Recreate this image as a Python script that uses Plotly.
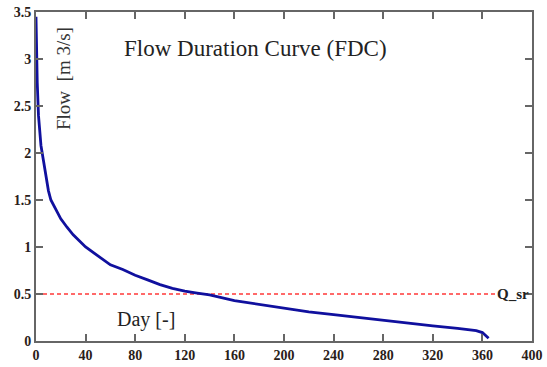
import plotly.graph_objects as go

days = [0, 0.3, 1, 2, 3, 4, 6, 8, 10, 12, 15, 20, 25, 30, 40, 50, 60, 70, 80, 90, 100, 110, 120, 130, 140, 160, 180, 200, 220, 240, 260, 280, 300, 320, 340, 355, 360, 363, 365]
flow = [3.45, 3.2, 2.75, 2.4, 2.2, 2.08, 1.92, 1.75, 1.6, 1.5, 1.42, 1.3, 1.21, 1.13, 1.0, 0.9, 0.81, 0.76, 0.70, 0.65, 0.60, 0.56, 0.53, 0.51, 0.49, 0.43, 0.39, 0.345, 0.31, 0.28, 0.25, 0.215, 0.19, 0.16, 0.135, 0.11, 0.09, 0.06, 0.03]
q_sr = 0.5
qsr_x = [0, 372]
x_ticks = [0, 40, 80, 120, 160, 200, 240, 280, 320, 360, 400]
y_ticks = [0, 0.5, 1, 1.5, 2, 2.5, 3, 3.5]
y_tick_text = ["0", "0.5", "1", "1.5", "2", "2.5", "3", "3.5"]

serif = "Liberation Serif, Times New Roman, serif"
axis_col = "#666"
tick_font = dict(family=serif, size=14, color="#2a2018", weight="bold")

fig = go.Figure()
fig.add_trace(go.Scatter(x=qsr_x, y=[q_sr, q_sr], mode="lines",
                         line=dict(color="#ff3838", width=1.3, dash="4px,3px"),
                         hoverinfo="skip", showlegend=False))
fig.add_trace(go.Scatter(x=days, y=flow, mode="lines",
                         line=dict(color="#10109e", width=2.8),
                         showlegend=False))

fig.update_layout(
    width=547, height=367,
    margin=dict(l=36, r=15, t=12, b=26),
    paper_bgcolor="white", plot_bgcolor="white",
    font=dict(family=serif, color="#222"),
    xaxis=dict(range=[0, 400], tickvals=x_ticks, ticks="inside", ticklen=7,
               tickwidth=1.5, tickcolor=axis_col, showline=True, linecolor=axis_col,
               linewidth=2, mirror="ticks", showgrid=False, zeroline=False,
               automargin=False, ticklabelstandoff=0, tickfont=tick_font),
    yaxis=dict(range=[0, 3.5], tickvals=y_ticks, ticktext=y_tick_text, ticks="inside",
               ticklen=7, tickwidth=1.5, tickcolor=axis_col, showline=True,
               linecolor=axis_col, linewidth=2, mirror="ticks", showgrid=False,
               zeroline=False, automargin=False, ticklabelstandoff=0,
               tickfont=tick_font),
    annotations=[
        dict(text="Flow Duration Curve (FDC)", x=(255 - 36) / 496, y=(341 - 48) / 329, xref="paper", yref="paper",
             xanchor="center", yanchor="middle",
             showarrow=False, font=dict(family=serif, size=23, color="#222")),
        dict(text="Flow&nbsp;&nbsp;[m 3/s]", x=(64 - 36) / 496, y=(341 - 79) / 329, xref="paper", yref="paper",
             xanchor="center", yanchor="middle",
             showarrow=False, textangle=-90, font=dict(family=serif, size=19, color="#333")),
        dict(text="Day [-]", x=(146 - 36) / 496, y=(341 - 319) / 329, xref="paper", yref="paper",
             xanchor="center", yanchor="middle",
             showarrow=False, font=dict(family=serif, size=20, color="#222")),
        dict(text="Q_sr", x=400, y=q_sr, xref="x", yref="y", xanchor="right", yanchor="middle",
             xshift=-1, showarrow=False, font=dict(family=serif, size=15, color="#222", weight="bold")),
    ],
)

fig.write_html("out.html")
